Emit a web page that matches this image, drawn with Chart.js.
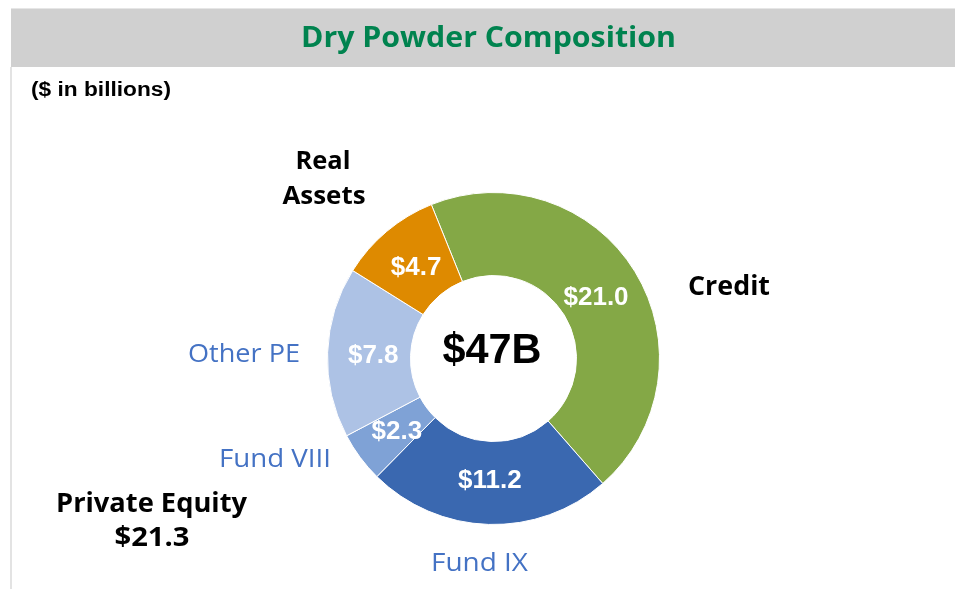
<!DOCTYPE html>
<html>
<head>
<meta charset="utf-8">
<script src="https://cdn.jsdelivr.net/npm/chart.js@4.4.1/dist/chart.umd.min.js"></script>
<style>
  html, body { margin: 0; padding: 0; background: #ffffff; }
  body { width: 955px; height: 589px; position: relative; overflow: hidden; }
  #topline { position: absolute; left: 11px; top: 8px; width: 944px; height: 1px; background: #e6e6e6; }
  #bar { position: absolute; left: 11px; top: 9px; width: 944px; height: 58px; background: #d0d0d0; }
  #leftline { position: absolute; left: 10px; top: 67px; width: 2px; height: 522px; background: #e3e3e3; }
  #c { position: absolute; left: 0; top: 0; }
</style>
</head>
<body>
<div id="topline"></div>
<div id="bar"></div>
<div id="leftline"></div>
<canvas id="c" width="955" height="589"></canvas>
<script>
// ---- data ----
const categories = ['Credit', 'Fund IX', 'Fund VIII', 'Other PE', 'Real Assets'];
const values = [21.0, 11.2, 2.3, 7.8, 4.7];
const valueLabels = ['$21.0', '$11.2', '$2.3', '$7.8', '$4.7'];
const totalLabel = '$47B';
const groupLabels = ['Private Equity', '$21.3'];
const titleText = 'Dry Powder Composition';
const unitText = '($ in billions)';

// ---- styles ----
const sliceColors = ['#84a846', '#3a68b0', '#7fa2d6', '#adc2e5', '#de8a00'];
const BOLD = '"Open Sans", "Noto Sans", "DejaVu Sans", sans-serif';
const ARIAL = '"Liberation Sans", Arial, sans-serif';

function fitText(ctx, text, x, y, align, width, font, color) {
  ctx.save();
  ctx.font = font;
  ctx.fillStyle = color;
  ctx.textBaseline = 'alphabetic';
  const w = ctx.measureText(text).width;
  const s = width ? width / w : 1;
  ctx.translate(x, y);
  ctx.scale(s, 1);
  ctx.textAlign = align;
  ctx.fillText(text, 0, 0);
  ctx.restore();
}

// annotation text layout (x, baseline y, target width)
const annotations = [
  { t: titleText, x: 301, y: 47, a: 'left', w: 375, f: '700 28px ' + BOLD, c: '#00834f' },
  { t: unitText, x: 31, y: 96, a: 'left', w: 140, f: '700 20px ' + ARIAL, c: '#000000' },
  { t: 'Real', x: 323, y: 169, a: 'center', w: 55, f: '700 25px ' + BOLD, c: '#000000' },
  { t: 'Assets', x: 324, y: 204, a: 'center', w: 83, f: '700 25px ' + BOLD, c: '#000000' },
  { t: categories[0], x: 688, y: 295, a: 'left', w: 82, f: '700 26px ' + BOLD, c: '#000000' },
  { t: categories[3], x: 188, y: 362, a: 'left', w: 112, f: '400 26px ' + BOLD, c: '#4472c4' },
  { t: categories[2], x: 219, y: 467, a: 'left', w: 112, f: '400 26px ' + BOLD, c: '#4472c4' },
  { t: categories[1], x: 431, y: 571, a: 'left', w: 97, f: '400 26px ' + BOLD, c: '#4472c4' },
  { t: groupLabels[0], x: 151.5, y: 512, a: 'center', w: 191, f: '700 26px ' + BOLD, c: '#000000' },
  { t: groupLabels[1], x: 152, y: 546, a: 'center', w: 75, f: '700 26px ' + BOLD, c: '#000000' }
];

const labelPlugin = {
  id: 'labels',
  afterDatasetsDraw(chart) {
    const ctx = chart.ctx;
    const meta = chart.getDatasetMeta(0);
    meta.data.forEach((arc, i) => {
      const p = arc.getProps(['x', 'y', 'startAngle', 'endAngle', 'innerRadius', 'outerRadius'], true);
      const mid = (p.startAngle + p.endAngle) / 2;
      const r = p.innerRadius + (p.outerRadius - p.innerRadius) * 0.45;
      const lx = p.x + Math.cos(mid) * r;
      const ly = p.y + Math.sin(mid) * r + 2;
      ctx.save();
      ctx.font = '700 26px ' + ARIAL;
      ctx.fillStyle = '#ffffff';
      ctx.textAlign = 'center';
      ctx.textBaseline = 'middle';
      ctx.fillText(valueLabels[i], lx, ly);
      ctx.restore();
    });
    const c = meta.data[0];
    fitText(ctx, totalLabel, c.x - 1.5, c.y + 4.5, 'center', 99, '700 42px ' + ARIAL, '#000000');
  },
  afterDraw(chart) {
    const ctx = chart.ctx;
    annotations.forEach(o => fitText(ctx, o.t, o.x, o.y, o.a, o.w, o.f, o.c));
  }
};

new Chart(document.getElementById('c'), {
  type: 'doughnut',
  data: {
    labels: categories,
    datasets: [{
      data: values,
      backgroundColor: sliceColors,
      borderColor: '#ffffff',
      borderWidth: 1,
      hoverOffset: 0
    }]
  },
  options: {
    responsive: false,
    animation: false,
    rotation: -22,
    radius: 166,
    cutout: '50%',
    layout: { padding: { left: 32, right: 0, top: 128, bottom: 0 } },
    plugins: {
      legend: { display: false },
      tooltip: { enabled: false },
      title: { display: false }
    }
  },
  plugins: [labelPlugin]
});
</script>
</body>
</html>
